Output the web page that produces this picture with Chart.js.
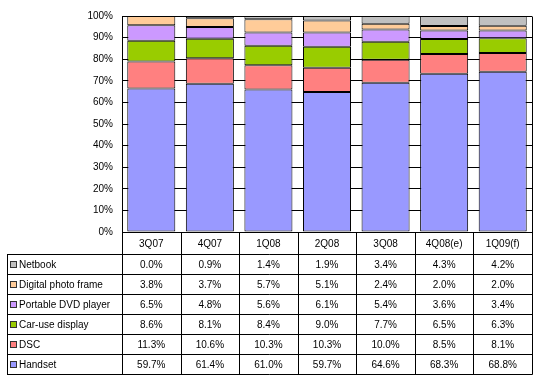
<!DOCTYPE html>
<html>
<head>
<meta charset="utf-8">
<script src="https://cdn.jsdelivr.net/npm/chart.js@4/dist/chart.umd.min.js"></script>
<style>
  html, body { margin: 0; padding: 0; background: #fff; }
  #wrap { width: 538px; height: 381px; position: relative; }
</style>
</head>
<body>
<div id="wrap"><canvas id="share"></canvas></div>
<script>
  // quarters along the x axis
  const quarters = ['3Q07', '4Q07', '1Q08', '2Q08', '3Q08', '4Q08(e)', '1Q09(f)'];

  // shipment share per application (%), as printed in the data table
  const handset = [59.7, 61.4, 61.0, 59.7, 64.6, 68.3, 68.8];
  const dsc = [11.3, 10.6, 10.3, 10.3, 10.0, 8.5, 8.1];
  const carUse = [8.6, 8.1, 8.4, 9.0, 7.7, 6.5, 6.3];
  const portableDvd = [6.5, 4.8, 5.6, 6.1, 5.4, 3.6, 3.4];
  const photoFrame = [3.8, 3.7, 5.7, 5.1, 2.4, 2.0, 2.0];
  const netbook = [0.0, 0.9, 1.4, 1.9, 3.4, 4.3, 4.2];

  const yTicks = [0, 10, 20, 30, 40, 50, 60, 70, 80, 90, 100];

  // bottom-to-top stacking order
  const series = [
    { label: 'Handset', values: handset, color: '#9999FF' },
    { label: 'DSC', values: dsc, color: '#FF8080' },
    { label: 'Car-use display', values: carUse, color: '#99CC00' },
    { label: 'Portable DVD player', values: portableDvd, color: '#CC99FF' },
    { label: 'Digital photo frame', values: photoFrame, color: '#FFCC99' },
    { label: 'Netbook', values: netbook, color: '#C0C0C0' },
  ];

  // 100% stacked: each column scaled by its own total
  const totals = quarters.map((q, i) => series.reduce((s, d) => s + d.values[i], 0));

  const FONT = '10px "Liberation Sans", Arial, sans-serif';
  const HEAD_H = 22;
  const ROW_H = 20;
  const TABLE_LEFT = 7;

  const dataTable = {
    id: 'dataTable',
    afterDraw(chart) {
      const ctx = chart.ctx;
      const area = chart.chartArea;
      const xs = chart.scales.x;
      const colW = (area.right - area.left) / quarters.length;
      const top = Math.round(area.bottom);
      const rowsTop = top + HEAD_H;
      const bottom = rowsTop + ROW_H * series.length;
      const R = Math.round(area.right) + 0.5;

      ctx.save();
      ctx.strokeStyle = '#000';
      ctx.lineWidth = 1;

      // right border of the plot area
      ctx.beginPath();
      ctx.moveTo(R, Math.round(area.top) + 0.5);
      ctx.lineTo(R, top + 0.5);
      ctx.stroke();

      // vertical lines of the table
      ctx.beginPath();
      for (let i = 0; i <= quarters.length; i++) {
        const x = Math.round(area.left + colW * i) + 0.5;
        ctx.moveTo(x, top);
        ctx.lineTo(x, bottom + 0.5);
      }
      ctx.moveTo(TABLE_LEFT + 0.5, rowsTop);
      ctx.lineTo(TABLE_LEFT + 0.5, bottom + 0.5);
      // horizontal lines
      for (let r = 0; r <= series.length; r++) {
        const y = rowsTop + ROW_H * r + 0.5;
        ctx.moveTo(TABLE_LEFT, y);
        ctx.lineTo(R, y);
      }
      ctx.stroke();

      ctx.font = FONT;
      ctx.fillStyle = '#000';
      ctx.textBaseline = 'middle';

      // header row: quarter names
      ctx.textAlign = 'center';
      quarters.forEach((q, i) => {
        ctx.fillText(q, xs.getPixelForValue(i), top + HEAD_H / 2 + 1);
      });

      // one row per series, top row is the last stacked series
      const rows = series.slice().reverse();
      rows.forEach((s, r) => {
        const cy = rowsTop + ROW_H * r + ROW_H / 2 + 1;
        ctx.fillStyle = s.color;
        ctx.fillRect(10, Math.round(cy) - 4, 7, 7);
        ctx.strokeStyle = '#333';
        ctx.strokeRect(10.5, Math.round(cy) - 3.5, 6, 6);
        ctx.fillStyle = '#000';
        ctx.textAlign = 'left';
        ctx.fillText(s.label, 19, cy);
        ctx.textAlign = 'center';
        s.values.forEach((v, i) => {
          ctx.fillText(v.toFixed(1) + '%', xs.getPixelForValue(i), cy);
        });
      });
      ctx.restore();
    }
  };

  new Chart(document.getElementById('share'), {
    type: 'bar',
    data: {
      labels: quarters,
      datasets: series.map((s) => ({
        label: s.label,
        data: s.values.map((v, i) => v / totals[i] * 100),
        backgroundColor: s.color,
        borderColor: '#000',
        borderWidth: 1,
        borderSkipped: false,
        inflateAmount: 0,
        categoryPercentage: 1,
        barPercentage: 0.82,
      })),
    },
    options: {
      responsive: true,
      maintainAspectRatio: false,
      animation: false,
      layout: { padding: { top: 16, right: 6, bottom: 149, left: 0 } },
      plugins: {
        legend: { display: false },
        tooltip: { enabled: false },
      },
      scales: {
        x: {
          stacked: true,
          display: false,
        },
        y: {
          stacked: true,
          min: 0,
          max: 100,
          afterFit: (scale) => { scale.width = 122; },
          afterBuildTicks: (scale) => { scale.ticks = yTicks.map((v) => ({ value: v })); },
          ticks: {
            color: '#000',
            font: { family: '"Liberation Sans", Arial, sans-serif', size: 10 },
            padding: 9,
            callback: (v) => v + '%',
          },
          grid: { color: '#000', lineWidth: 1, drawTicks: false },
          border: { display: true, color: '#000', width: 1 },
        },
      },
    },
    plugins: [dataTable],
  });
</script>
</body>
</html>
